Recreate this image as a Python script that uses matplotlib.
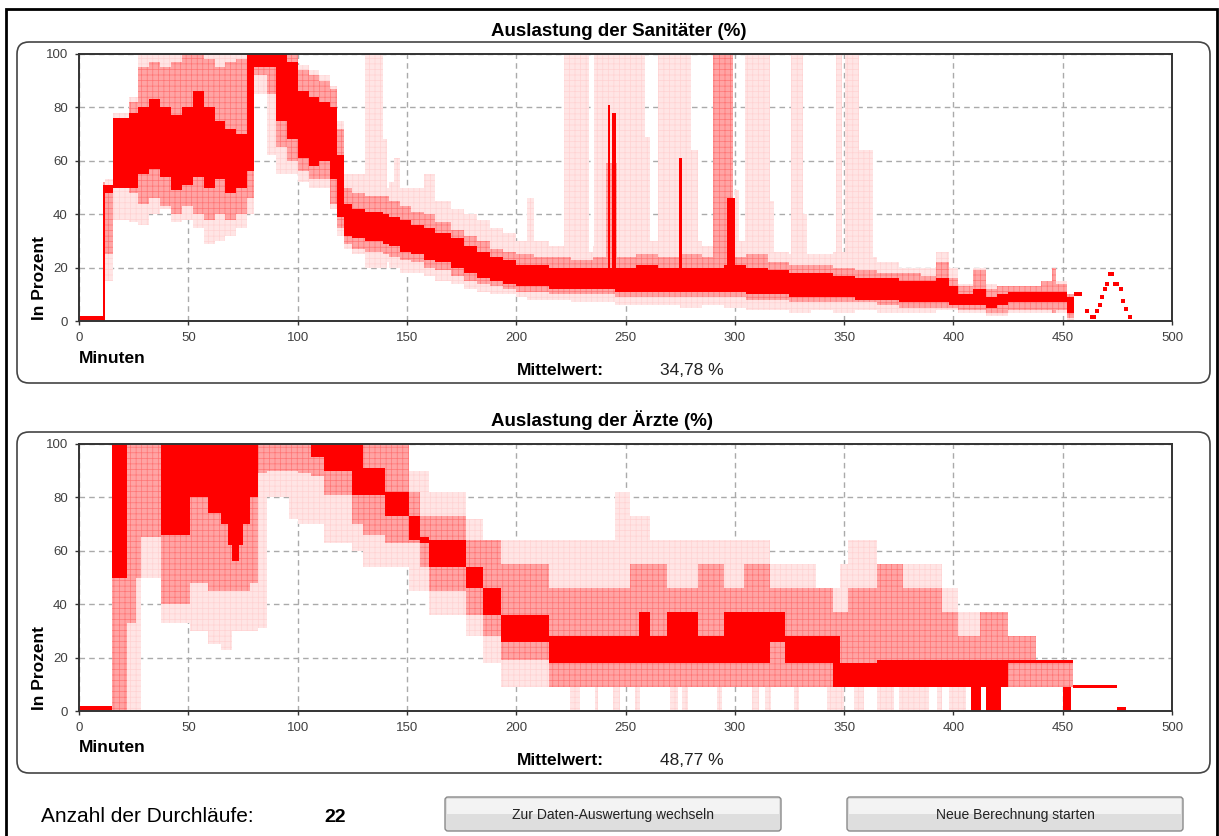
import matplotlib
matplotlib.use("Agg")
import matplotlib.pyplot as plt
from matplotlib.patches import FancyBboxPatch, Rectangle
from matplotlib.transforms import IdentityTransform

W, H = 1219, 836
plt.rcParams['font.family'] = ['Liberation Sans', 'DejaVu Sans']
plt.rcParams['hatch.linewidth'] = 0.5

# ---- Auslastung der Sanitäter: Bänder über 22 Durchläufe (Minute, Prozent) ----
san_t = [0, 11, 12, 15.5, 23, 27, 32, 37, 42, 47, 52, 57, 62, 67, 72, 77, 80, 86, 90, 95,
         100, 105, 110, 115, 118, 121, 125, 131, 139, 142, 147, 152, 158, 163, 170, 176, 182,
         188, 194, 200, 205, 208, 215, 225, 235, 245, 255, 265, 275, 285, 295, 305, 315, 325,
         335, 345, 355, 365, 375, 385, 392, 398, 402, 409, 415, 420, 425, 440, 445, 447, 452,
         455, 459]
san_outer_lo = [0, 0, 15, 38, 37, 36, 40, 42, 37, 38, 35, 29, 30, 32, 35, 40, 85, 62, 55, 55,
                52, 50, 50, 42, 32, 27, 25, 22, 22, 20, 18, 18, 17, 15, 14, 12, 11,
                10, 10, 9, 8, 8, 8, 7, 7, 6, 6, 6, 5, 6, 5, 4, 4, 3,
                4, 3, 4, 3, 3, 3, 4, 4, 3, 3, 2, 2, 3, 3, 3, 3, 0,
                9.5, 9.5]
san_outer_hi = [2, 52, 53, 78, 84, 100, 100, 100, 100, 100, 100, 100, 100, 100, 100, 100, 100, 100, 100, 100,
                96, 94, 92, 88, 75, 55, 55, 50, 50, 52, 50, 50, 55, 45, 42, 40, 38,
                35, 33, 30, 46, 30, 28, 26, 28, 28, 30, 28, 30, 28, 30, 30, 26, 25,
                25, 26, 24, 22, 20, 20, 26, 20, 14, 20, 14, 13, 13, 15, 20, 15, 10,
                11, 11]
san_mid_lo = [0, 0, 25, 50, 48, 44, 46, 43, 40, 43, 40, 38, 40, 38, 40, 46, 92, 85, 65, 60,
              56, 53, 53, 44, 35, 29, 27, 26, 25, 24, 23, 22, 20, 19, 17, 15, 14,
              13, 12, 11, 11, 11, 10, 10, 10, 9, 9, 9, 9, 9, 9, 8, 8, 7,
              7, 7, 7, 6, 5, 5, 5, 5, 4, 4, 3, 3, 4, 4, 3, 4, 1,
              9.5, 9.5]
san_mid_hi = [2, 52, 51, 76, 82, 95, 97, 95, 97, 100, 100, 98, 95, 97, 98, 100, 100, 100, 100, 100,
              94, 92, 90, 87, 72, 50, 48, 47, 47, 45, 43, 41, 40, 37, 34, 32, 30,
              27, 26, 25, 25, 24, 24, 23, 24, 24, 25, 24, 25, 24, 24, 25, 22, 21,
              21, 20, 19, 18, 18, 17, 22, 16, 13, 19, 12, 13, 13, 15, 20, 14, 10,
              11, 11]
san_core_lo = [0.3, 0, 48, 50, 50, 55, 57, 54, 49, 51, 54, 50, 53, 48, 50, 56, 95, 95, 75, 68,
               61, 58, 60, 53, 39, 32, 31, 30, 29, 28, 26, 25, 23, 22, 20, 18, 16,
               15, 14, 13, 13, 13, 12, 12, 12, 11, 11, 11, 11, 11, 11, 10, 10, 9,
               9, 9, 8, 8, 7, 7, 7, 6, 6, 6, 5, 6, 7, 7, 7, 7, 3,
               9.5, 9.5]
san_core_hi = [1.8, 51, 51, 76, 78, 80, 83, 80, 77, 80, 86, 80, 75, 72, 70, 100, 100, 100, 100, 97,
               86, 84, 82, 80, 62, 44, 42, 41, 40, 39, 38, 36, 35, 33, 31, 28, 26,
               24, 23, 21, 21, 21, 20, 20, 20, 20, 21, 20, 20, 20, 21, 20, 19, 18,
               18, 17, 16, 16, 15, 15, 16, 13, 10, 12, 9, 10, 11, 11, 11, 11, 9,
               11, 11]

# einzelne Spitzen (Beginn, Ende, Höhe)
san_light_start = [131, 139, 144, 222, 235.5, 259, 265, 280, 300, 304.5, 316, 325.8, 331, 346.5, 350.5, 357]
san_light_end = [139, 141, 147, 233.5, 259, 261, 280, 283, 302, 316, 318, 331, 333, 349, 357, 363]
san_light_top = [100, 68, 61, 100, 100, 69, 100, 64, 49, 100, 45, 100, 40, 100, 100, 64]
san_mid_start = [241, 290]
san_mid_end = [246, 299]
san_mid_top = [59, 100]
san_spike_start = [241.8, 244, 274.5, 296.5]
san_spike_end = [243, 245.5, 275.8, 300]
san_spike_top = [81, 78, 61, 46]

# letzter Durchlauf (punktiert)
san_tail_t = [461.3, 463.5, 464.5, 465.5, 467, 468.2, 469.4, 470.4, 471.5, 472.5, 474, 475, 476.6, 477.8, 478.8, 480.6]
san_tail_v = [3.9, 1.5, 1.5, 3.9, 6, 9, 12, 14, 17.5, 17.5, 14, 14, 12, 7.5, 4.6, 1.5]

# ---- Auslastung der Ärzte ----
arz_t = [0, 15, 22, 26, 28.5, 37.5, 51, 59, 65, 68, 70, 73, 75, 78, 82, 86, 96, 100, 106, 112,
         125, 130, 140, 151, 156, 160, 177, 185, 193, 215, 245, 252, 256, 261, 269, 283, 295,
         304, 316, 323, 337, 345, 348, 352, 365, 377, 395, 402, 412, 425, 438, 454.5, 475, 479]
arz_outer_lo = [0, 0, 0, 0, 50, 33, 30, 25, 23, 23, 30, 30, 30, 30, 31, 80, 72, 70, 70, 63,
                60, 54, 54, 45, 45, 36, 28, 18, 9, 9, 9, 9, 9, 9, 9, 9, 9,
                9, 9, 9, 9, 9, 9, 9, 9, 9, 9, 9, 9, 9, 9, 8.6, 0, 0]
arz_outer_hi = [2, 100, 100, 100, 100, 100, 100, 100, 100, 100, 100, 100, 100, 100, 100, 100, 100, 100, 100, 100,
                100, 100, 100, 90, 90, 82, 72, 64, 64, 64, 82, 73, 73, 64, 64, 64, 64,
                64, 55, 55, 46, 46, 55, 64, 55, 55, 46, 37, 37, 28, 19, 9.6, 1.5, 1.5]
arz_mid_lo = [0, 0, 33, 50, 65, 40, 48, 45, 45, 45, 45, 45, 45, 48, 89, 90, 90, 89, 88, 81,
              70, 66, 63, 63, 54, 45, 36, 28, 19, 9, 9, 9, 9, 9, 9, 9, 9,
              9, 9, 9, 9, 9, 9, 9, 9, 9, 9, 9, 9, 9, 9, 8.6, 0, 0]
arz_mid_hi = [2, 100, 100, 100, 100, 100, 100, 100, 100, 100, 100, 100, 100, 100, 100, 100, 100, 100, 100, 100,
              100, 100, 100, 82, 73, 73, 64, 64, 55, 46, 46, 55, 55, 55, 46, 55, 46,
              55, 46, 46, 46, 37, 37, 46, 55, 46, 37, 28, 37, 28, 19, 9.6, 1.5, 1.5]
arz_core_lo = [0.3, 50, 100, 100, 100, 66, 80, 74, 70, 62, 56, 62, 70, 80, 100, 100, 100, 100, 95, 90,
               81, 81, 73, 64, 63, 54, 46, 36, 26, 18, 18, 18, 18, 18, 18, 18, 18,
               18, 26, 18, 18, 9, 9, 9, 9, 9, 9, 9, 9, 18, 18, 8.6, 0, 0]
arz_core_hi = [1.8, 100, 100, 100, 100, 100, 100, 100, 100, 100, 100, 100, 100, 100, 100, 100, 100, 100, 100, 100,
               100, 91, 82, 73, 65, 64, 54, 46, 36, 28, 28, 28, 37, 28, 37, 28, 37,
               37, 37, 28, 28, 28, 18, 18, 19, 19, 19, 19, 19, 19, 19, 9.6, 1.5, 1.5]

# schmale Säulen unterhalb des Bandes (Beginn, Ende), 0 bis 9 %
arz_low_start = [224.7, 236, 244.5, 254.5, 270.5, 275.8, 291.7, 308, 314, 327, 342, 354.5, 365, 375, 392.7, 398]
arz_low_end = [229, 237.6, 247.6, 256.8, 274, 278.8, 294, 311, 316.7, 329.5, 350, 359, 373, 389, 395, 405.7]
arz_dark_start = [408, 415, 450]
arz_dark_end = [412.5, 422, 454]

mittel_san = "34,78 %"
mittel_arz = "48,77 %"
durchlaeufe = "22"

LIGHT = '#ffe5e5'
LIGHT_HATCH = '#ffd2d2'
MID = '#ffa4a4'
MID_HATCH = '#ff7474'
CORE = '#ff0000'


def fx(x):
    return x / W


def fy(y):
    return 1 - y / H


def columns(ax, starts, ends, tops, bottom, color, hatch=None, hcolor=None):
    widths = [e - s for s, e in zip(starts, ends)]
    heights = [t - bottom for t in tops]
    ax.bar(starts, heights, width=widths, bottom=bottom, align='edge', facecolor=color,
           edgecolor=hcolor if hcolor else color, hatch=hatch, lw=0, zorder=2)


def band(ax, t, lo, hi, color, hatch=None, hcolor=None):
    ax.fill_between(t, lo, hi, step='post', facecolor=color,
                    edgecolor=hcolor if hcolor else color, hatch=hatch, lw=0, zorder=2)


def style_axes(ax):
    ax.set_xlim(0, 500)
    ax.set_ylim(0, 100)
    ax.set_xticks(range(0, 501, 50))
    ax.set_yticks(range(0, 101, 20))
    ax.grid(True, color='#aaaaaa', linestyle=(0, (4, 3)), lw=1)
    ax.set_axisbelow(True)
    for sp in ax.spines.values():
        sp.set_color('#333333')
        sp.set_linewidth(1.4)
    ax.tick_params(direction='out', length=3, width=1, color='#333333',
                   labelsize=9.5, labelcolor='#404040', pad=5)


fig = plt.figure(figsize=(W / 100, H / 100), dpi=100)
fig.patch.set_facecolor('white')

# Rahmen und Panels
fig.add_artist(Rectangle((6, -10), 1211, H - 9 + 10, transform=IdentityTransform(),
                         fill=False, edgecolor='black', lw=2))
for y0 in (42, 432):
    fig.add_artist(FancyBboxPatch((17, H - y0 - 341), 1193, 341, transform=IdentityTransform(),
                                  boxstyle='round,pad=0,rounding_size=12',
                                  fill=False, edgecolor='#444444', lw=1.2))

# oberes Diagramm
ax1 = fig.add_axes([fx(79), fy(321), 1093 / W, 267 / H])
style_axes(ax1)
band(ax1, san_t, san_outer_lo, san_outer_hi, LIGHT, '+++', LIGHT_HATCH)
columns(ax1, san_light_start, san_light_end, san_light_top, 20, LIGHT, '+++', LIGHT_HATCH)
band(ax1, san_t, san_mid_lo, san_mid_hi, MID, '+++', MID_HATCH)
columns(ax1, san_mid_start, san_mid_end, san_mid_top, 20, MID, '+++', MID_HATCH)
band(ax1, san_t, san_core_lo, san_core_hi, CORE)
columns(ax1, san_spike_start, san_spike_end, san_spike_top, 15, CORE)
ax1.scatter(san_tail_t, san_tail_v, marker='s', s=9, color=CORE, lw=0, zorder=3)

# unteres Diagramm
ax2 = fig.add_axes([fx(79), fy(711), 1093 / W, 267 / H])
style_axes(ax2)
band(ax2, arz_t, arz_outer_lo, arz_outer_hi, LIGHT, '+++', LIGHT_HATCH)
columns(ax2, arz_low_start, arz_low_end, [9] * len(arz_low_start), 0, LIGHT, '+++', LIGHT_HATCH)
band(ax2, arz_t, arz_mid_lo, arz_mid_hi, MID, '+++', MID_HATCH)
band(ax2, arz_t, arz_core_lo, arz_core_hi, CORE)
columns(ax2, arz_dark_start, arz_dark_end, [9] * len(arz_dark_start), 0, CORE)

# Beschriftungen
for title, base in (("Auslastung der Sanitäter (%)", 36), ("Auslastung der Ärzte (%)", 426)):
    fig.text(fx(491), fy(base), title, ha='left', va='baseline', fontsize=13.5, fontweight='bold')

for ybot, ymin, ymit, val in ((320, 363, 375, mittel_san), (710, 752, 765, mittel_arz)):
    fig.text(fx(40), fy(ybot), "In Prozent", rotation=90, ha='center', va='bottom',
             fontsize=12.5, fontweight='bold')
    fig.text(fx(79), fy(ymin), "Minuten", ha='left', va='baseline', fontsize=12.5, fontweight='bold')
    fig.text(fx(517), fy(ymit), "Mittelwert:", ha='left', va='baseline', fontsize=12.5, fontweight='bold')
    fig.text(fx(660), fy(ymit), val, ha='left', va='baseline', fontsize=12.5, color='#222222')

fig.text(fx(41), fy(822), "Anzahl der Durchläufe:", ha='left', va='baseline', fontsize=15)
fig.text(fx(324), fy(822), durchlaeufe, ha='left', va='baseline', fontsize=14, fontweight='bold')

# Schaltflächen
for x0, label in ((445, "Zur Daten-Auswertung wechseln"), (847, "Neue Berechnung starten")):
    fig.add_artist(FancyBboxPatch((x0, 5), 336, 34, transform=IdentityTransform(),
                                  boxstyle='round,pad=0,rounding_size=3',
                                  facecolor='#dedede', edgecolor='#8a8a8a', lw=1))
    fig.add_artist(Rectangle((x0 + 2, 22), 332, 15, transform=IdentityTransform(),
                             facecolor='#f3f3f3', edgecolor='none'))
    fig.text(fx(x0 + 168), fy(815), label, ha='center', va='center', fontsize=10, color='#222222')

fig.savefig("out.png", dpi=100)
